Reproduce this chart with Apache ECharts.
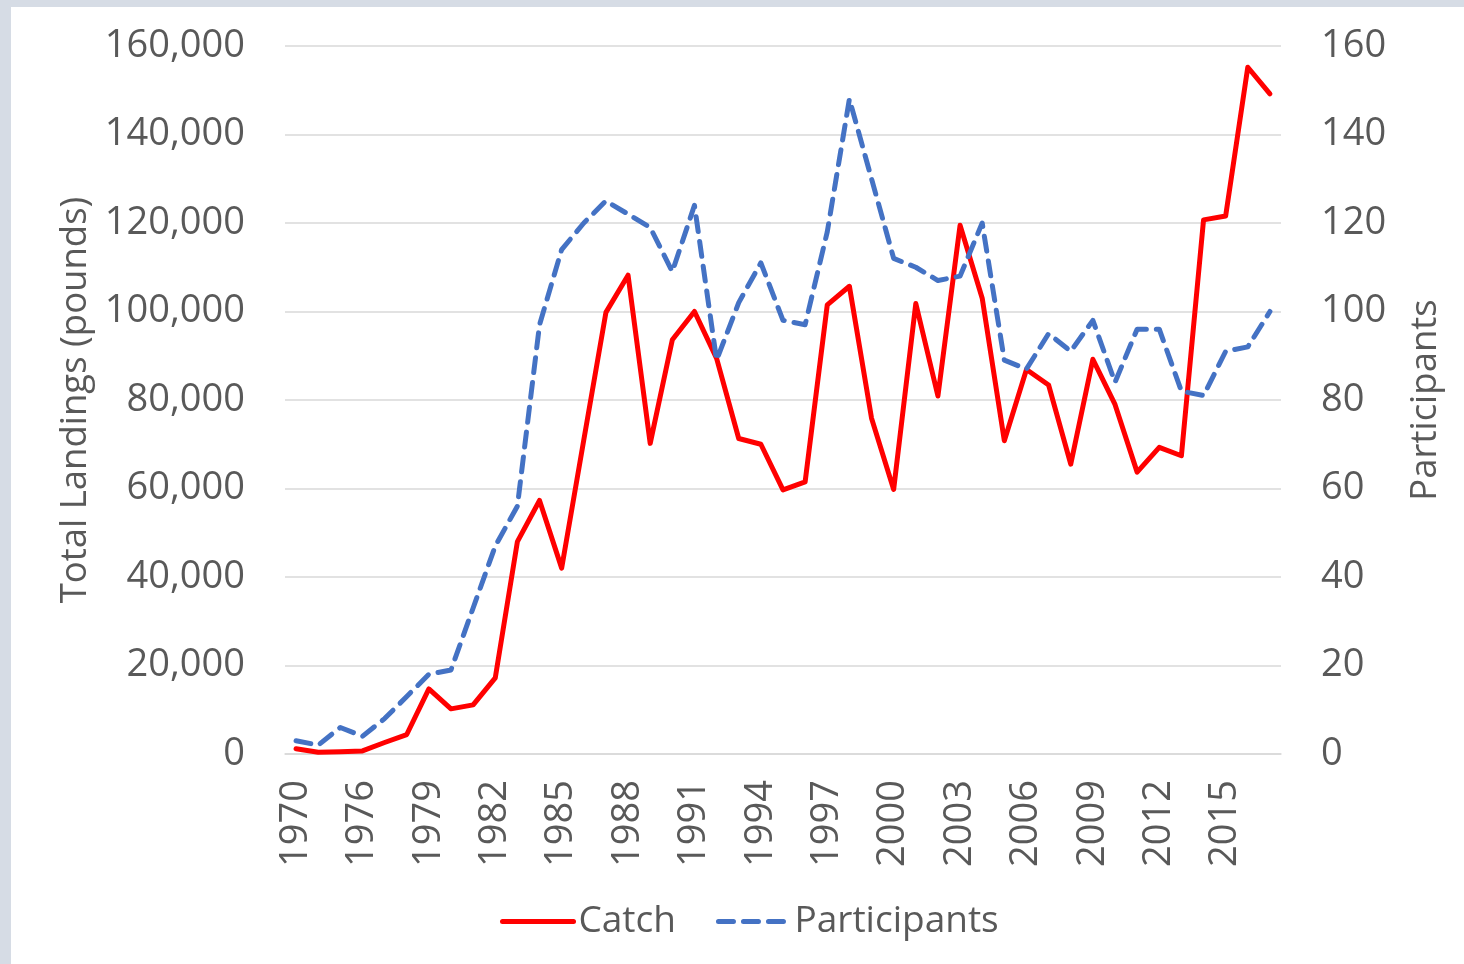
<!DOCTYPE html>
<html>
<head>
<meta charset="utf-8">
<script src="https://cdn.jsdelivr.net/npm/echarts@6/dist/echarts.min.js"></script>
<style>
  html, body { margin: 0; padding: 0; background: #D6DCE5; }
  #chart { position: absolute; left: 11px; top: 7px; width: 1453px; height: 957px; background: #ffffff; }
</style>
</head>
<body>
<div id="chart"></div>
<script>
const years = ['1970','1972','1974','1976','1977','1978','1979','1980','1981','1982','1983','1984','1985','1986','1987','1988','1989','1990','1991','1992','1993','1994','1995','1996','1997','1998','1999','2000','2001','2002','2003','2004','2005','2006','2007','2008','2009','2010','2011','2012','2013','2014','2015','2016','2017'];
const catchValues = [1200,400,500,700,2600,4400,14700,10200,11100,17200,48000,57300,42000,71000,99800,108200,70200,93600,100000,89400,71300,70000,59700,61500,101500,105700,75900,59800,101800,80900,119500,103000,70800,86900,83400,65500,89200,79000,63700,69300,67400,120700,121600,155200,149200];
const participantValues = [3,2,6,4,8,13,18,19,33,47,56,97,114,120,125,122,119,109,124,89,102,111,98,97,118,148,130,112,110,107,108,120,89,87,95,91,98,84,96,96,82,81,91,92,100];
const leftTicks = { min: 0, max: 160000, interval: 20000 };
const rightTicks = { min: 0, max: 160, interval: 20 };

const textColor = '#595959';
const font = 'Open Sans';
const red = '#FF0000';
const blue = '#4472C4';
const dash = [15, 10];
const chart = echarts.init(document.getElementById('chart'));
chart.setOption({
  animation: false,
  textStyle: { fontFamily: font },
  grid: { left: 274, right: 183, top: 39, bottom: 210, containLabel: false },
  legend: {
    left: 484, top: 891,
    itemWidth: 71, itemHeight: 14, itemGap: 40,
    itemStyle: { opacity: 0 },
    textStyle: { fontSize: 37, color: textColor, fontFamily: font },
    data: [
      { name: 'Catch', itemStyle: { opacity: 0 }, lineStyle: { color: red, width: 5, type: 'solid', cap: 'round' } },
      { name: 'Participants', itemStyle: { opacity: 0 }, lineStyle: { color: blue, width: 5, type: dash, cap: 'round' } }
    ]
  },
  xAxis: {
    type: 'category',
    data: years,
    boundaryGap: true,
    axisLine: { show: true, lineStyle: { color: '#d9d9d9', width: 1.5 } },
    axisTick: { show: false },
    axisLabel: { interval: 2, rotate: 90, margin: 26, fontSize: 38, color: textColor, fontFamily: font }
  },
  yAxis: [
    {
      type: 'value',
      min: leftTicks.min, max: leftTicks.max, interval: leftTicks.interval,
      name: 'Total Landings (pounds)',
      nameLocation: 'middle', nameGap: 190, nameRotate: 90,
      nameTextStyle: { fontSize: 36.5, color: textColor, fontFamily: font },
      axisLine: { show: false }, axisTick: { show: false },
      axisLabel: { margin: 40, fontSize: 38, color: textColor, fontFamily: font,
        formatter: v => v.toLocaleString('en-US') },
      splitLine: { show: true, lineStyle: { color: '#d9d9d9', width: 1.5 } }
    },
    {
      type: 'value',
      min: rightTicks.min, max: rightTicks.max, interval: rightTicks.interval,
      name: 'Participants',
      nameLocation: 'middle', nameGap: 126, nameRotate: 90,
      nameTextStyle: { fontSize: 36.5, color: textColor, fontFamily: font },
      axisLine: { show: false }, axisTick: { show: false },
      axisLabel: { margin: 40, fontSize: 38, color: textColor, fontFamily: font },
      splitLine: { show: false }
    }
  ],
  series: [
    {
      name: 'Catch', type: 'line', yAxisIndex: 0, data: catchValues,
      symbol: 'none', showSymbol: false, smooth: false,
      itemStyle: { color: red },
      lineStyle: { color: red, width: 5, join: 'round', cap: 'round' }
    },
    {
      name: 'Participants', type: 'line', yAxisIndex: 1, data: participantValues,
      symbol: 'none', showSymbol: false, smooth: false,
      itemStyle: { color: blue },
      lineStyle: { color: blue, width: 5, type: dash, join: 'round', cap: 'round' }
    }
  ]
});
</script>
</body>
</html>
